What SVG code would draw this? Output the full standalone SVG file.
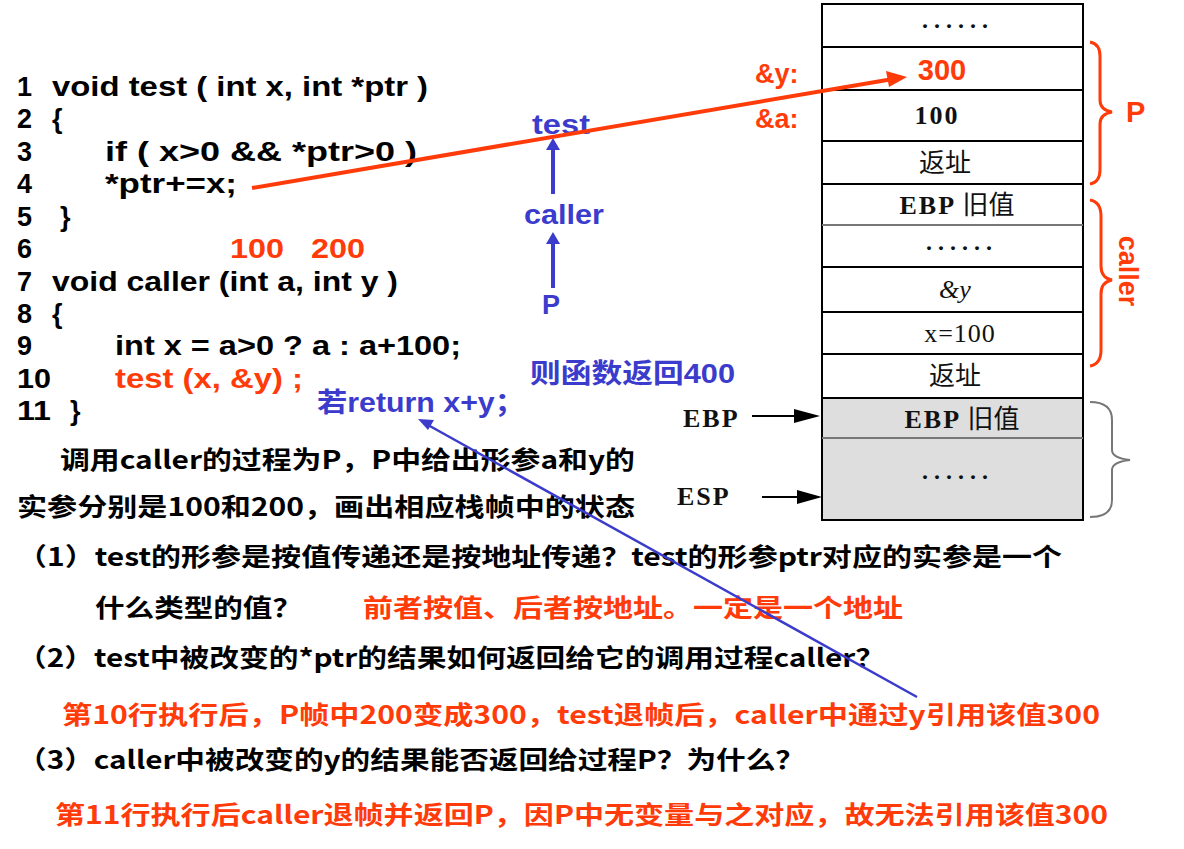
<svg xmlns="http://www.w3.org/2000/svg" width="1184" height="849" viewBox="0 0 1184 849">
<defs>
<style>
.code{font-family:"Liberation Sans","Noto Sans CJK SC",sans-serif;font-weight:bold;font-size:27px;fill:#000}
.txt{font-family:"Noto Sans CJK SC",sans-serif;font-weight:bold;font-size:25px;fill:#000}
.red{fill:#ff3b0a}
.blue{font-family:"Liberation Sans","Noto Sans CJK SC",sans-serif;font-weight:bold;font-size:27px;fill:#3b3bcc}
.stk{font-family:"Liberation Serif","Noto Sans CJK SC",serif;font-size:26px;fill:#111;text-anchor:middle}
.dots{font-family:"Liberation Serif",serif;font-size:24px;font-weight:bold;fill:#111;text-anchor:middle;letter-spacing:6px}
.cell{fill:#fff;stroke:#000;stroke-width:2}
.gcell{fill:#dedede;stroke:#000;stroke-width:2}
.lbl{font-family:"Liberation Serif",serif;font-weight:bold;font-size:26px;fill:#111;letter-spacing:2px}
</style>
</defs>

<g id="stack">
<rect class="cell" x="822" y="4" width="261" height="394"/>
<rect class="gcell" x="822" y="398" width="261" height="122"/>
<g stroke="#000" stroke-width="2">
<line x1="822" y1="47" x2="1083" y2="47"/>
<line x1="822" y1="90" x2="1083" y2="90"/>
<line x1="822" y1="141" x2="1083" y2="141"/>
<line x1="822" y1="184" x2="1083" y2="184"/>
<line x1="822" y1="225" x2="1083" y2="225" stroke="#777"/>
<line x1="822" y1="267" x2="1083" y2="267"/>
<line x1="822" y1="312" x2="1083" y2="312"/>
<line x1="822" y1="354" x2="1083" y2="354"/>
<line x1="822" y1="438" x2="1083" y2="438" stroke="#777"/>
</g>
<text class="dots" x="958" y="28">......</text>
<text x="942" y="80" font-family="Liberation Sans,sans-serif" font-weight="bold" font-size="29" fill="#ff3b0a" text-anchor="middle">300</text>
<text class="stk" x="937" y="124" font-weight="bold" letter-spacing="2">100</text>
<text class="stk" x="945" y="172">返址</text>
<text class="stk" x="957" y="214"><tspan font-weight="bold" letter-spacing="2">EBP</tspan> 旧值</text>
<text class="dots" x="962" y="250">......</text>
<text class="stk" x="955" y="298" font-style="italic">&amp;y</text>
<text class="stk" x="960" y="342" letter-spacing="1">x=100</text>
<text class="stk" x="955" y="385">返址</text>
<text class="stk" x="962" y="428"><tspan font-weight="bold" letter-spacing="2">EBP</tspan> 旧值</text>
<text class="dots" x="958" y="479">......</text>
</g>

<g id="stack-labels">
<text x="755" y="83" font-family="Liberation Sans,sans-serif" font-weight="bold" font-size="27" fill="#ff3b0a">&amp;y:</text>
<text x="755" y="128" font-family="Liberation Sans,sans-serif" font-weight="bold" font-size="27" fill="#ff3b0a">&amp;a:</text>
<text class="lbl" x="683" y="427">EBP</text>
<text class="lbl" x="677" y="505">ESP</text>
<line x1="752" y1="416" x2="802" y2="416" stroke="#000" stroke-width="2"/>
<polygon points="794,409 820,416 794,423" fill="#000"/>
<line x1="762" y1="497" x2="805" y2="497" stroke="#000" stroke-width="2"/>
<polygon points="797,490 822,497 797,504" fill="#000"/>
<path d="M1090,42 Q1100,44 1100,56 L1100,100 Q1100,110 1112,112 Q1100,114 1100,124 L1100,170 Q1100,182 1090,184" fill="none" stroke="#ff3b0a" stroke-width="3"/>
<text x="1126" y="122" font-family="Liberation Sans,sans-serif" font-weight="bold" font-size="29" fill="#ff3b0a">P</text>
<path d="M1090,200 Q1101,202 1101,216 L1101,266 Q1101,278 1112,280 Q1101,282 1101,294 L1101,350 Q1101,364 1090,366" fill="none" stroke="#ff3b0a" stroke-width="3"/>
<text transform="translate(1119,271) rotate(90)" font-family="Liberation Sans,sans-serif" font-weight="bold" font-size="27" fill="#ff3b0a" text-anchor="middle">caller</text>
<path d="M1090,402 Q1112,402 1112,420 L1112,450 Q1112,458 1130,460 Q1112,462 1112,470 L1112,500 Q1112,517 1090,517" fill="none" stroke="#777" stroke-width="2"/>
</g>

<g id="code">
<text class="code" x="17" y="96">1</text><text class="code" x="52" y="96" textLength="376" lengthAdjust="spacingAndGlyphs">void test ( int x, int *ptr )</text>
<text class="code" x="17" y="128">2</text><text class="code" x="52" y="128">{</text>
<text class="code" x="17" y="161">3</text><text class="code" x="105" y="161" textLength="312" lengthAdjust="spacingAndGlyphs">if  ( x&gt;0 &amp;&amp; *ptr&gt;0 )</text>
<text class="code" x="17" y="193">4</text><text class="code" x="105" y="193" textLength="132" lengthAdjust="spacingAndGlyphs">*ptr+=x;</text>
<text class="code" x="17" y="226">5</text><text class="code" x="60" y="226">}</text>
<text class="code" x="17" y="258">6</text>
<text class="code red" x="230" y="258" textLength="54" lengthAdjust="spacingAndGlyphs">100</text>
<text class="code red" x="311" y="258" textLength="54" lengthAdjust="spacingAndGlyphs">200</text>
<text class="code" x="17" y="291">7</text><text class="code" x="52" y="291" textLength="346" lengthAdjust="spacingAndGlyphs">void caller (int a, int y )</text>
<text class="code" x="17" y="323">8</text><text class="code" x="52" y="323">{</text>
<text class="code" x="17" y="355">9</text><text class="code" x="115" y="355" textLength="346" lengthAdjust="spacingAndGlyphs">int x = a&gt;0 ? a : a+100;</text>
<text class="code" x="17" y="388" textLength="34" lengthAdjust="spacingAndGlyphs">10</text><text class="code red" x="115" y="388" textLength="188" lengthAdjust="spacingAndGlyphs">test (x, &amp;y) ;</text>
<text class="code" x="17" y="420" textLength="34" lengthAdjust="spacingAndGlyphs">11</text><text class="code" x="70" y="420">}</text>
</g>

<g id="call-chain">
<text class="blue" x="532" y="134" textLength="58" lengthAdjust="spacingAndGlyphs">test</text>
<text class="blue" x="524" y="224" textLength="80" lengthAdjust="spacingAndGlyphs">caller</text>
<text class="blue" x="542" y="314">P</text>
<line x1="553" y1="194" x2="553" y2="146" stroke="#3b3bcc" stroke-width="4"/>
<polygon points="546,150 553,138 560,150" fill="#3b3bcc"/>
<line x1="553" y1="288" x2="553" y2="240" stroke="#3b3bcc" stroke-width="4"/>
<polygon points="546,244 553,232 560,244" fill="#3b3bcc"/>
<text class="blue" x="530" y="383" textLength="205" lengthAdjust="spacingAndGlyphs">则函数返回400</text>
<text class="blue" x="317" y="412" textLength="208" lengthAdjust="spacingAndGlyphs">若return x+y；</text>
</g>

<g id="questions">
<text class="txt" x="60" y="469" textLength="575" lengthAdjust="spacingAndGlyphs">调用caller的过程为P，P中给出形参a和y的</text>
<text class="txt" x="17" y="516" textLength="618" lengthAdjust="spacingAndGlyphs">实参分别是100和200，画出相应栈帧中的状态</text>
<text class="txt" x="17" y="566" textLength="1045" lengthAdjust="spacingAndGlyphs">（1）test的形参是按值传递还是按地址传递？test的形参ptr对应的实参是一个</text>
<text class="txt" x="95" y="617" textLength="207" lengthAdjust="spacingAndGlyphs">什么类型的值？</text>
<text class="txt red" x="363" y="617" textLength="540" lengthAdjust="spacingAndGlyphs">前者按值、后者按地址。一定是一个地址</text>
<text class="txt" x="17" y="667" textLength="868" lengthAdjust="spacingAndGlyphs">（2）test中被改变的*ptr的结果如何返回给它的调用过程caller？</text>
<text class="txt red" x="62" y="724" textLength="1038" lengthAdjust="spacingAndGlyphs">第10行执行后，P帧中200变成300，test退帧后，caller中通过y引用该值300</text>
<text class="txt" x="17" y="769" textLength="788" lengthAdjust="spacingAndGlyphs">（3）caller中被改变的y的结果能否返回给过程P？为什么？</text>
<text class="txt red" x="55" y="824" textLength="1053" lengthAdjust="spacingAndGlyphs">第11行执行后caller退帧并返回P，因P中无变量与之对应，故无法引用该值300</text>
</g>

<g id="connectors">
<line x1="252" y1="188" x2="893" y2="79" stroke="#ff3b0a" stroke-width="4"/>
<polygon points="907,77 889,87 886,71" fill="#ff3b0a"/>
<line x1="917" y1="697" x2="428" y2="425" stroke="#3b3bcc" stroke-width="2.5"/>
<polygon points="418,419 434,420 428,430" fill="#3b3bcc"/>
</g>
</svg>
